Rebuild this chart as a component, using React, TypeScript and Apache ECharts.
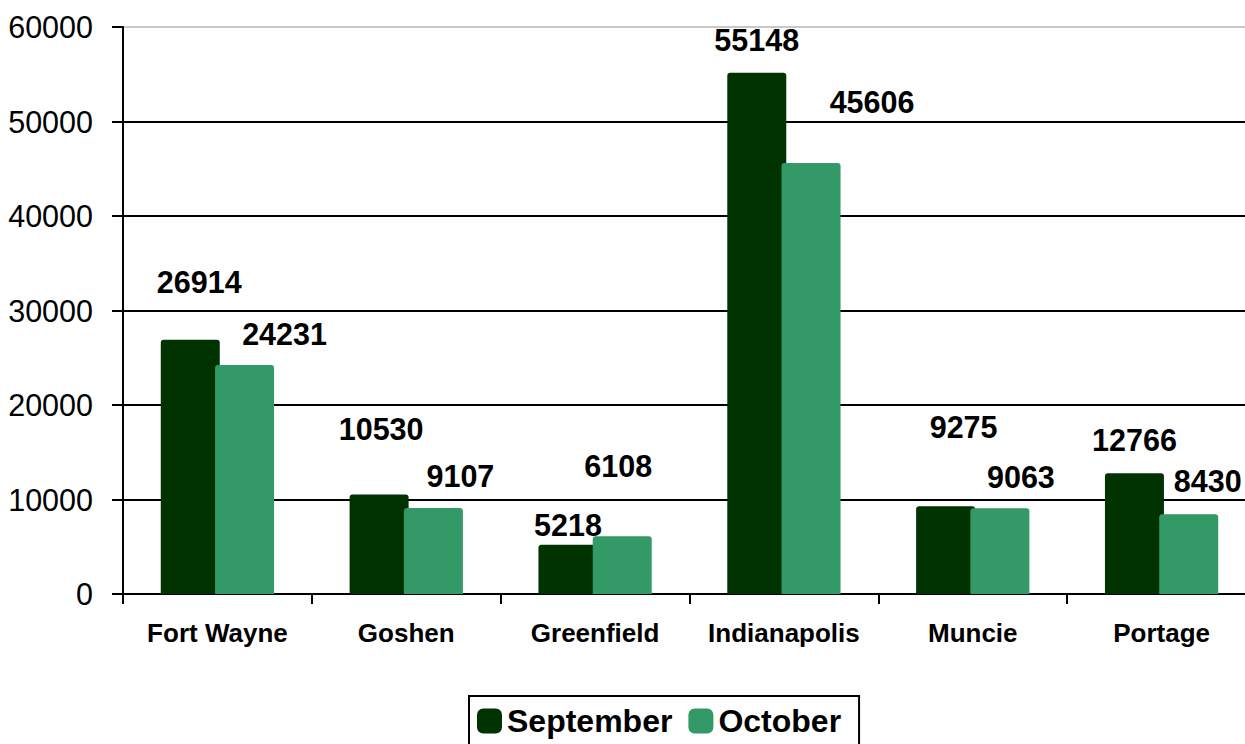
import React, { useEffect, useRef } from "react";
import * as echarts from "echarts";

const categories = ["Fort Wayne", "Goshen", "Greenfield", "Indianapolis", "Muncie", "Portage"];
const september = [26914, 10530, 5218, 55148, 9275, 12766];
const october = [24231, 9107, 6108, 45606, 9063, 8430];
const seriesNames = ["September", "October"];
const yTicks = { min: 0, max: 60000, interval: 10000 };

// label nudges (dx, dy) to mimic the reference placement
const sepLabelOffsets: [number, number][] = [[9, -37], [2, -45], [0, 1], [0, -12], [18, -59], [0, -13]];
const octLabelOffsets: [number, number][] = [[40, -11], [27, -11], [-4, -50], [61, -41], [21, -11], [19, -13]];

const FONT = "'Liberation Sans', Arial, Helvetica, sans-serif";
const DARK = "#003300";
const LIGHT = "#339966";

export default function App() {
  const ref = useRef<HTMLDivElement>(null);
  useEffect(() => {
    if (!ref.current) return;
    const chart = echarts.init(ref.current, null, { renderer: "svg" });
    const mk = (vals: number[], offs: [number, number][]) =>
      vals.map((v, i) => ({ value: v, label: { offset: offs[i] } }));
    const labelStyle = {
      show: true,
      position: "top",
      distance: 5,
      color: "#000",
      fontFamily: FONT,
      fontWeight: "bold",
      fontSize: 30.5,
    };
    chart.setOption({
      animation: false,
      backgroundColor: "#fff",
      textStyle: { fontFamily: FONT },
      grid: { left: 123, top: 27, bottom: 150, right: 0, containLabel: false },
      legend: {
        data: seriesNames,
        left: 469,
        top: 696,
        orient: "horizontal",
        icon: "roundRect",
        itemWidth: 25,
        itemHeight: 25,
        itemGap: 16,
        borderColor: "#000",
        borderWidth: 2,
        borderRadius: 0,
        padding: [9, 18, 20, 8],
        textStyle: { fontFamily: FONT, fontWeight: "bold", fontSize: 32, color: "#000" },
      },
      xAxis: {
        type: "category",
        data: categories,
        axisLine: { show: true, lineStyle: { color: "#000", width: 2 } },
        axisTick: { show: true, length: 10, lineStyle: { color: "#000", width: 2 } },
        axisLabel: {
          interval: 0,
          fontFamily: FONT,
          fontWeight: "bold",
          fontSize: 26,
          color: "#000",
          margin: 26,
        },
      },
      yAxis: {
        type: "value",
        min: yTicks.min,
        max: yTicks.max,
        interval: yTicks.interval,
        axisLine: { show: true, lineStyle: { color: "#000", width: 2 } },
        axisTick: { show: true, length: 11, lineStyle: { color: "#000", width: 2 } },
        axisLabel: {
          fontFamily: FONT,
          fontSize: 30.5,
          color: "#000",
          margin: 30,
          formatter: (v: number) => String(v),
        },
        splitLine: {
          show: true,
          lineStyle: { color: ["#000", "#000", "#000", "#000", "#000", "#000", "#c8c8c8"], width: 2 },
        },
      },
      series: [
        {
          name: seriesNames[0],
          type: "bar",
          data: mk(september, sepLabelOffsets),
          barWidth: 59,
          barGap: "-8%",
          itemStyle: { color: DARK, borderRadius: [3, 3, 0, 0] },
          label: labelStyle,
          z: 2,
        },
        {
          name: seriesNames[1],
          type: "bar",
          data: mk(october, octLabelOffsets),
          barWidth: 59,
          barGap: "-8%",
          itemStyle: { color: LIGHT, borderRadius: [3, 3, 0, 0] },
          label: labelStyle,
          z: 3,
        },
      ],
    });
    return () => chart.dispose();
  }, []);
  return (
    <div
      ref={ref}
      style={{ position: "fixed", left: 0, top: 0, width: 1256, height: 744, background: "#fff" }}
    />
  );
}
